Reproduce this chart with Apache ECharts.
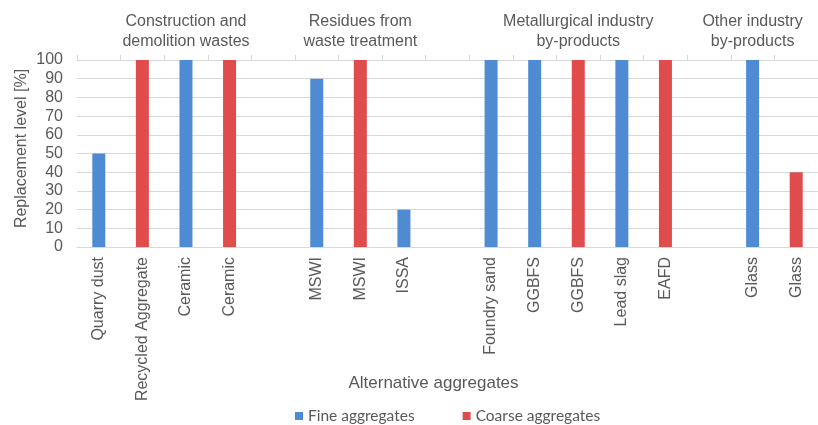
<!DOCTYPE html>
<html>
<head>
<meta charset="utf-8">
<script src="https://cdn.jsdelivr.net/npm/echarts@6/dist/echarts.min.js"></script>
<style>
html,body{margin:0;padding:0;background:#fff;}
#chart{width:818px;height:425px;}
</style>
</head>
<body>
<div id="chart"></div>
<script>
const categories = ['Quarry dust','Recycled Aggregate','Ceramic','Ceramic','','MSWI','MSWI','ISSA','','Foundry sand','GGBFS','GGBFS','Lead slag','EAFD','','Glass','Glass'];
const fineValues = [50, null, 100, null, null, 90, null, 20, null, 100, 100, null, 100, null, null, 100, null];
const coarseValues = [null, 100, null, 100, null, null, 100, null, null, null, null, 100, null, 100, null, null, 40];
const groupLabels = ['Construction and\ndemolition wastes','Residues from\nwaste treatment','Metallurgical industry\nby-products','Other industry\nby-products'];
const groupLabelIndex = [2, 6, 11, 15];
const yTicks = [0, 10, 20, 30, 40, 50, 60, 70, 80, 90, 100];

const textColor = '#595959';
const gridColor = '#d9d9d9';
const font = 'Arial, "Liberation Sans", sans-serif';

const chart = echarts.init(document.getElementById('chart'), null, {renderer: 'canvas'});
chart.setOption({
  backgroundColor: '#ffffff',
  animation: false,
  textStyle: {fontFamily: font},
  grid: {left: 77, right: -7, top: 60, bottom: 178, containLabel: false},
  legend: {
    data: ['Fine aggregates', 'Coarse aggregates'],
    top: 403,
    left: 290,
    icon: 'rect',
    itemWidth: 8,
    itemHeight: 8,
    itemGap: 48,
    textStyle: {fontFamily: 'Lato, "Open Sans", sans-serif', fontSize: 15.5, color: textColor}
  },
  xAxis: [{
    type: 'category',
    data: categories,
    position: 'bottom',
    axisLine: {show: true, lineStyle: {color: gridColor, width: 1}},
    axisTick: {show: false},
    axisLabel: {interval: 0, rotate: 90, fontSize: 16, color: textColor, margin: 10, fontFamily: font},
    name: 'Alternative aggregates',
    nameLocation: 'middle',
    nameGap: 128,
    nameMoveOverlap: false,
    nameTextStyle: {fontSize: 17, color: textColor, fontFamily: font, padding: [0, 28, 0, 0]}
  }, {
    type: 'category',
    data: categories,
    position: 'top',
    axisLine: {show: true, lineStyle: {color: gridColor, width: 1}},
    axisTick: {show: true, interval: 0, length: 5, lineStyle: {color: gridColor}},
    axisLabel: {
      interval: 0, fontSize: 16, color: textColor, margin: 8, lineHeight: 20, fontFamily: font,
      formatter: function (v, i) { const k = groupLabelIndex.indexOf(i); return k >= 0 ? groupLabels[k] : ''; }
    }
  }],
  yAxis: {
    type: 'value',
    min: yTicks[0],
    max: yTicks[yTicks.length - 1],
    interval: 10,
    axisLine: {show: false},
    axisTick: {show: false},
    splitLine: {show: true, lineStyle: {color: gridColor, width: 1}},
    axisLabel: {fontSize: 16, color: textColor, margin: 14, fontFamily: font},
    name: 'Replacement level [%]',
    nameLocation: 'middle',
    nameGap: 47,
    nameMoveOverlap: false,
    nameTextStyle: {fontSize: 16, color: textColor, fontFamily: font, padding: [0, 0, 0, 10]}
  },
  series: [{
    name: 'Fine aggregates',
    type: 'bar',
    data: fineValues,
    barWidth: 13,
    barGap: '-100%',
    itemStyle: {color: '#4f8bd3'}
  }, {
    name: 'Coarse aggregates',
    type: 'bar',
    data: coarseValues,
    barWidth: 13,
    barGap: '-100%',
    itemStyle: {color: '#e04b4b'}
  }]
});
</script>
</body>
</html>
